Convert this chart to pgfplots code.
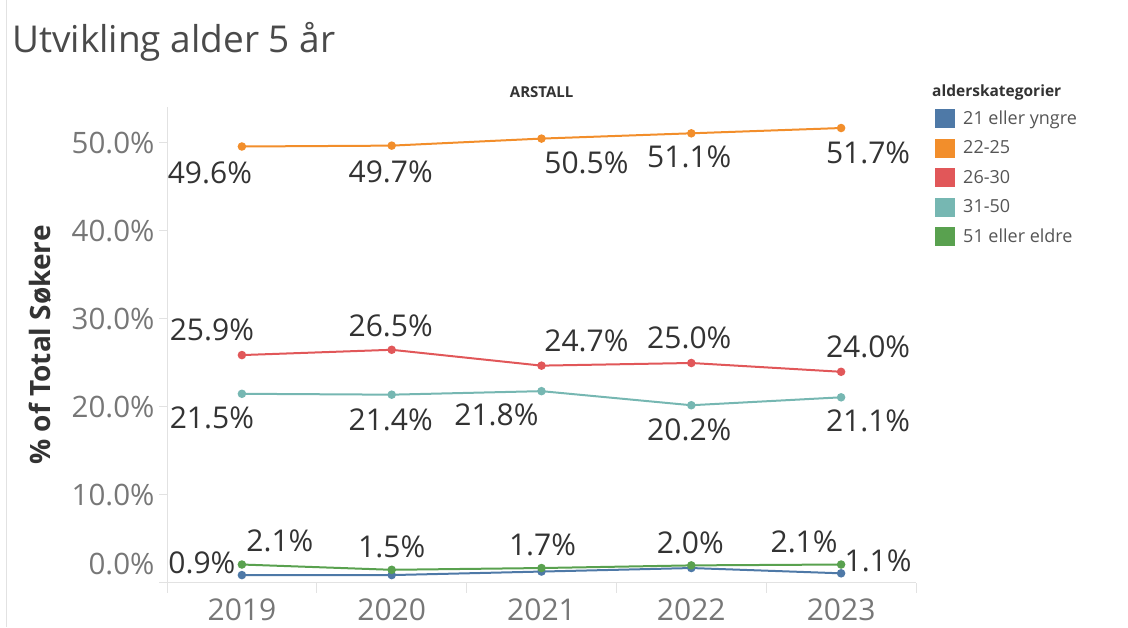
\documentclass[border=0pt]{standalone}
\usepackage{pgfplots}
\pgfplotsset{compat=1.18}
\usepackage{fontspec}
\setmainfont{Open Sans}
\definecolor{cblue}{HTML}{4E79A7}
\definecolor{corange}{HTML}{F28E2B}
\definecolor{cred}{HTML}{E15759}
\definecolor{cteal}{HTML}{76B7B2}
\definecolor{cgreen}{HTML}{59A14F}
\definecolor{txt}{HTML}{333333}
\definecolor{ttl}{HTML}{4A4A4A}
\definecolor{tickc}{HTML}{777777}
\definecolor{legc}{HTML}{555555}
\definecolor{axl}{HTML}{E2E2E2}

\pgfplotstableread{
x y dx dy
0 49.6 -32 -26
1 49.7 -1 -26
2 50.5 45 -24
3 51.1 -2 -24
4 51.7 27 -25
}\orange
\pgfplotstableread{
x y dx dy
0 25.9 -30 25
1 26.5 -1 24
2 24.7 45 25
3 25.0 -2 25
4 24.0 27 25
}\red
\pgfplotstableread{
x y dx dy
0 21.5 -30 -24
1 21.4 -1 -25
2 21.8 -45 -24
3 20.2 -2 -25
4 21.1 27 -24
}\teal
\pgfplotstableread{
x y dx dy
0 2.1 38 24
1 1.5 0 23
2 1.7 1 23
3 2.0 -1 23
4 2.1 -37 23
}\green
\pgfplotstableread{
x y
0 0.9
1 0.9
2 1.3
3 1.7
4 1.1
}\blue
\pgfplotstableread{
x y dx dy
0 0.9 -40 12
4 1.1 37 12
}\bluelab

\begin{document}
\begin{tikzpicture}
\useasboundingbox (0pt,0pt) rectangle (1128pt,627pt);
\draw[axl, line width=1pt] (6.5pt,0pt) -- (6.5pt,627pt);
\node[anchor=base west, inner sep=0pt, text=ttl, font=\fontsize{37}{40}\selectfont] at (12pt,574pt) {Utvikling alder 5 år};
\begin{axis}[
  at={(167pt,44pt)}, anchor=south west,
  scale only axis, width=749pt, height=476pt,
  xmin=-0.5, xmax=4.5, ymin=0, ymax=54.09,
  clip=false,
  axis x line*=bottom, axis y line*=left,
  axis line style={axl, -, line width=1pt},
  /pgf/number format/assume math mode=true,
  xtick={0,1,2,3,4},
  xticklabels={2019,2020,2021,2022,2023},
  xtick style={draw=none},
  xticklabel style={text=tickc, font=\fontsize{30}{34}\selectfont, yshift=-4pt},
  ytick={10,20,30,40,50},
  extra y ticks={0},
  extra y tick style={yticklabel style={yshift=19pt}},
  yticklabel={\pgfmathprintnumber[fixed,fixed zerofill,precision=1]{\tick}\%},
  yticklabel style={text=tickc, font=\fontsize{29.5}{32}\selectfont, xshift=-1pt},
  ytick style={axl, line width=1pt},
  major tick length=8pt,
  tick align=outside,
  ylabel={\% of Total Søkere},
  ylabel style={at={(axis description cs:-0.1696,0.5)}, anchor=center, text=txt, font=\bfseries\fontsize{28}{32}\selectfont},
  legend style={draw=none, fill=none, at={(axis description cs:1.0254,0.996)}, anchor=north west,
    inner sep=0pt, row sep=10.5pt, font=\fontsize{18}{20}\selectfont, text=legc,
    nodes={inner sep=0pt, anchor=west},
    /tikz/every odd column/.append style={column sep=8pt}},
  legend cell align=left,
  legend image code/.code={\fill[#1, draw=none] (0pt,-9.5pt) rectangle (20pt,9.5pt);},
  every axis plot/.append style={line width=2pt, mark=*, mark size=3.2pt},
  lab/.style={
    point meta=y,
    nodes near coords={\pgfmathprintnumber[fixed,fixed zerofill,precision=1]{\pgfplotspointmeta}\%},
    visualization depends on={\thisrow{dx} \as \dx},
    visualization depends on={\thisrow{dy} \as \dy},
    every node near coord/.append style={anchor=center, xshift=\dx pt, yshift=\dy pt,
      text=txt, font=\fontsize{30}{34}\selectfont, inner sep=0pt},
  },
]
\addplot[cblue] table[x=x,y=y] {\blue};
\addlegendentry{21 eller yngre}
\addplot[corange, lab] table[x=x,y=y] {\orange};
\addlegendentry{22-25}
\addplot[cred, lab] table[x=x,y=y] {\red};
\addlegendentry{26-30}
\addplot[cteal, lab] table[x=x,y=y] {\teal};
\addlegendentry{31-50}
\addplot[cgreen, lab] table[x=x,y=y] {\green};
\addlegendentry{51 eller eldre}
\addplot[draw=none, mark=none, lab, forget plot] table[x=x,y=y] {\bluelab};
\pgfplotsinvokeforeach{-0.5,0.5,1.5,2.5,3.5,4.5}{
  \draw[axl, line width=1pt] (axis cs:#1,0) -- ++(0pt,-10pt);
}
\node[anchor=center, text=txt, font=\bfseries\fontsize{15}{18}\selectfont] at (axis description cs:0.5002,1.0315) {ARSTALL};
\node[anchor=base west, inner sep=0pt, text=txt, font=\bfseries\fontsize{15.5}{18}\selectfont] at (axis description cs:1.0214,1.021) {alderskategorier};
\end{axis}
\end{tikzpicture}
\end{document}
